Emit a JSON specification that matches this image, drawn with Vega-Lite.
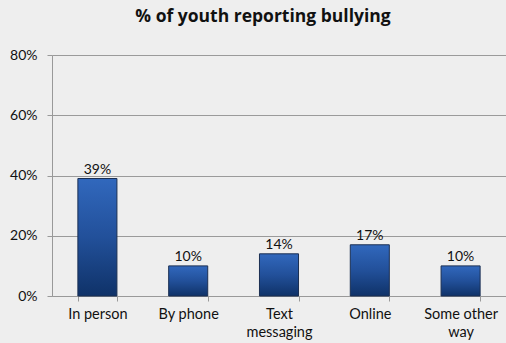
{
  "$schema": "https://vega.github.io/schema/vega-lite/v6.json",
  "width": 506,
  "height": 343,
  "autosize": {"type": "fit", "contains": "padding"},
  "padding": {"left": 8, "top": 7, "right": 0, "bottom": 0},
  "background": "#eeeeee",
  "title": {
    "text": "% of youth reporting bullying",
    "font": "Open Sans",
    "fontSize": 17.5,
    "fontWeight": "bold",
    "color": "#111111",
    "anchor": "middle",
    "dx": -16,
    "offset": 23
  },
  "data": {
    "values": [
      {"method": "In person", "pct": 0.39},
      {"method": "By phone", "pct": 0.10},
      {"method": "Text messaging", "pct": 0.14},
      {"method": "Online", "pct": 0.17},
      {"method": "Some other way", "pct": 0.10}
    ]
  },
  "config": {
    "view": {"stroke": null},
    "font": "Lato"
  },
  "encoding": {
    "x": {
      "field": "method",
      "type": "nominal",
      "sort": null,
      "scale": {"paddingInner": 0.57, "paddingOuter": 0.285},
      "axis": {
        "title": null,
        "labelAngle": 0,
        "labelFont": "Lato",
        "labelFontSize": 14.5,
        "labelColor": "#111111",
        "labelPadding": 6,
        "labelLineHeight": 18,
        "labelExpr": "datum.value == 'Text messaging' ? ['Text', 'messaging'] : datum.value == 'Some other way' ? ['Some other', 'way'] : datum.value",
        "domainColor": "#999999",
        "tickColor": "#999999",
        "tickBand": "extent",
        "tickSize": 5,
        "minExtent": 47,
        "maxExtent": 47
      }
    },
    "y": {
      "field": "pct",
      "type": "quantitative",
      "scale": {"domain": [0, 0.8]},
      "axis": {
        "title": null,
        "values": [0, 0.2, 0.4, 0.6, 0.8],
        "format": ".0%",
        "labelFont": "Lato",
        "labelFontSize": 14,
        "labelColor": "#111111",
        "labelPadding": 10,
        "domainColor": "#999999",
        "tickColor": "#999999",
        "tickSize": 5,
        "gridColor": "#9a9a9a",
        "gridOpacity": 1,
        "minExtent": 44,
        "maxExtent": 44
      }
    }
  },
  "layer": [
    {
      "mark": {
        "type": "bar",
        "stroke": "#1b2f52",
        "strokeWidth": 1,
        "color": {
          "gradient": "linear",
          "x1": 0, "y1": 0, "x2": 0, "y2": 1,
          "stops": [
            {"offset": 0, "color": "#3168bd"},
            {"offset": 0.5, "color": "#22509a"},
            {"offset": 1, "color": "#0f3268"}
          ]
        }
      }
    },
    {
      "mark": {
        "type": "text",
        "dy": -9,
        "font": "Lato",
        "fontSize": 14,
        "color": "#111111"
      },
      "encoding": {
        "text": {"field": "pct", "type": "quantitative", "format": ".0%"}
      }
    }
  ]
}
